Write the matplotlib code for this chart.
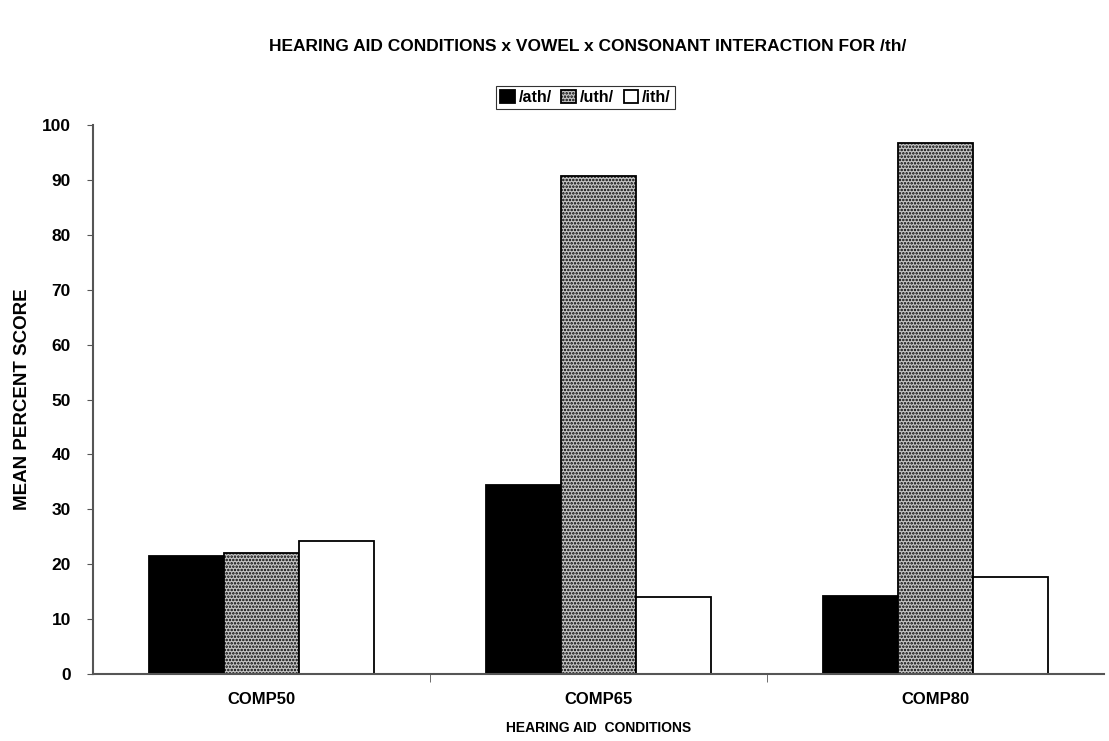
import matplotlib
matplotlib.use("Agg")
import matplotlib.pyplot as plt
import numpy as np

categories = ["COMP50", "COMP65", "COMP80"]
series_names = ["/ath/", "/uth/", "/ith/"]
ath = [21.5, 34.5, 14.3]
uth = [22.0, 90.7, 96.7]
ith = [24.2, 14.0, 17.7]
yticks = [0, 10, 20, 30, 40, 50, 60, 70, 80, 90, 100]

plt.rcParams['font.family'] = ['Liberation Sans', 'DejaVu Sans']
plt.rcParams['hatch.linewidth'] = 1.2

fig = plt.figure(figsize=(11.09, 7.41), dpi=100)
ax = fig.add_axes([0.084, 0.0904, 0.9115, 0.7406])

x = np.arange(len(categories))
w = 1 / 4.5
styles = [
    dict(facecolor='black', edgecolor='black'),
    dict(facecolor='#c4c4c4', edgecolor='black', hatch='.....'),
    dict(facecolor='white', edgecolor='black'),
]
for i, (vals, st) in enumerate(zip([ath, uth, ith], styles)):
    ax.bar(x + (i - 1) * w, vals, width=w, linewidth=1.3,
           label=series_names[i], **st)

ax.set_xlim(-0.5, 2.5)
ax.set_ylim(0, 100)
ax.set_yticks(yticks)
ax.set_yticklabels([str(t) for t in yticks], fontsize=12.5, fontweight='bold')
ax.set_xticks(x)
ax.set_xticklabels(categories, fontsize=12, fontweight='bold')
ax.set_xticks([0.5, 1.5], minor=True)
ax.tick_params(axis='x', which='major', length=0, pad=13)
ax.tick_params(axis='x', which='minor', length=6, color='#555555', direction='out')
ax.tick_params(axis='y', length=4, color='#555555', direction='out', pad=12)

for s in ['top', 'right']:
    ax.spines[s].set_visible(False)
for s in ['left', 'bottom']:
    ax.spines[s].set_color('#555555')
    ax.spines[s].set_linewidth(1.5)

ax.set_ylabel("MEAN PERCENT SCORE", fontsize=13.5, fontweight='bold', labelpad=8)
ax.set_xlabel("HEARING AID  CONDITIONS", fontsize=10, fontweight='bold', labelpad=10)

fig.text(0.53, 0.937, "HEARING AID CONDITIONS x VOWEL x CONSONANT INTERACTION FOR /th/",
         ha='center', va='center', fontsize=12.5, fontweight='bold')

leg = ax.legend(loc='center', bbox_to_anchor=(0.487, 1.05), ncol=3, frameon=True,
                fancybox=False, edgecolor='black',
                prop={'weight': 'bold', 'size': 11.5},
                handlelength=0.9, handleheight=0.9, handletextpad=0.25,
                columnspacing=0.6, borderpad=0.25, borderaxespad=0)
leg.get_frame().set_linewidth(0.8)

fig.savefig("out.png", dpi=100, facecolor='white')
